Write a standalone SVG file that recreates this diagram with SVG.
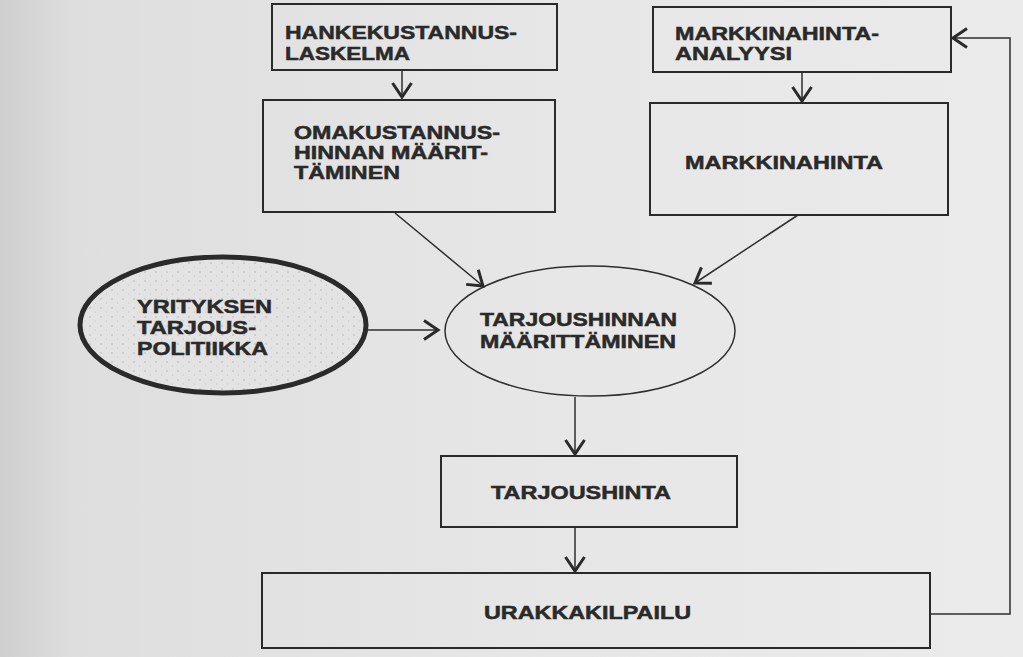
<svg xmlns="http://www.w3.org/2000/svg" width="1023" height="657" viewBox="0 0 1023 657">
<defs>
<linearGradient id="bg" x1="0" y1="0" x2="1" y2="0">
<stop offset="0" stop-color="#cfcfcf"/>
<stop offset="0.07" stop-color="#dedede"/>
<stop offset="0.5" stop-color="#e6e6e6"/>
<stop offset="1" stop-color="#ebebeb"/>
</linearGradient>
<pattern id="stip" width="11" height="9" patternUnits="userSpaceOnUse">
<rect width="11" height="9" fill="#e3e3e3"/>
<circle cx="2" cy="2" r="0.7" fill="#a8a8a8"/>
<circle cx="7.5" cy="6" r="0.6" fill="#bdbdbd"/>
</pattern>
<marker id="arr" markerUnits="userSpaceOnUse" markerWidth="24" markerHeight="24" viewBox="-16 -12 18 24" refX="0" refY="0" orient="auto">
<path d="M -14 -9.5 L 0 0 L -14 9.5" fill="none" stroke="#2a2a2a" stroke-width="3" stroke-linejoin="miter"/>
</marker>
<style>
.box{fill:none;stroke:#2a2a2a;stroke-width:2}
.t{font-family:"Liberation Sans",Arial,sans-serif;font-weight:bold;font-size:18.5px;fill:#2a2a2a;stroke:#2a2a2a;stroke-width:0.5}
.c{fill:none;stroke:#2e2e2e;stroke-width:1.5;marker-end:url(#arr)}
</style>
</defs>
<rect width="1023" height="657" fill="url(#bg)"/>

<g id="connectors">
<line class="c" x1="402" y1="70" x2="402" y2="97"/>
<line class="c" x1="802" y1="72" x2="802" y2="101"/>
<line class="c" x1="395" y1="213" x2="483" y2="286"/>
<line class="c" x1="798" y1="215" x2="695" y2="283"/>
<line class="c" x1="368" y1="330" x2="438" y2="330"/>
<line class="c" x1="575" y1="397" x2="575" y2="454"/>
<line class="c" x1="575" y1="527" x2="575" y2="571"/>
<polyline class="c" points="930,614 1010,614 1010,38 953,38"/>
</g>

<g id="hankekustannuslaskelma">
<rect class="box" x="272" y="4" width="285" height="66"/>
<text class="t" x="285" y="39" textLength="232" lengthAdjust="spacingAndGlyphs">HANKEKUSTANNUS-</text>
<text class="t" x="285" y="60" textLength="125" lengthAdjust="spacingAndGlyphs">LASKELMA</text>
</g>

<g id="markkinahinta-analyysi">
<rect class="box" x="653" y="7" width="298" height="65"/>
<text class="t" x="675" y="40" textLength="204" lengthAdjust="spacingAndGlyphs">MARKKINAHINTA-</text>
<text class="t" x="675" y="60" textLength="117" lengthAdjust="spacingAndGlyphs">ANALYYSI</text>
</g>

<g id="omakustannushinta">
<rect class="box" x="263" y="100" width="292" height="112"/>
<text class="t" x="294" y="139" textLength="206" lengthAdjust="spacingAndGlyphs">OMAKUSTANNUS-</text>
<text class="t" x="294" y="159" textLength="194" lengthAdjust="spacingAndGlyphs">HINNAN MÄÄRIT-</text>
<text class="t" x="294" y="179" textLength="106" lengthAdjust="spacingAndGlyphs">TÄMINEN</text>
</g>

<g id="markkinahinta">
<rect class="box" x="650" y="103" width="298" height="112"/>
<text class="t" x="685" y="169" textLength="198" lengthAdjust="spacingAndGlyphs">MARKKINAHINTA</text>
</g>

<g id="tarjouspolitiikka">
<ellipse cx="223" cy="325" rx="143" ry="68" fill="url(#stip)" stroke="#2a2a2a" stroke-width="5"/>
<text class="t" x="137" y="313" textLength="135" lengthAdjust="spacingAndGlyphs">YRITYKSEN</text>
<text class="t" x="137" y="334" textLength="119" lengthAdjust="spacingAndGlyphs">TARJOUS-</text>
<text class="t" x="137" y="355" textLength="131" lengthAdjust="spacingAndGlyphs">POLITIIKKA</text>
</g>

<g id="tarjoushinnan-maarittaminen">
<ellipse cx="590" cy="331" rx="145" ry="65" fill="none" stroke="#2e2e2e" stroke-width="1.5"/>
<text class="t" x="480" y="326" textLength="197" lengthAdjust="spacingAndGlyphs">TARJOUSHINNAN</text>
<text class="t" x="480" y="348" textLength="196" lengthAdjust="spacingAndGlyphs">MÄÄRITTÄMINEN</text>
</g>

<g id="tarjoushinta">
<rect class="box" x="441" y="456" width="296" height="71"/>
<text class="t" x="491" y="499" textLength="180" lengthAdjust="spacingAndGlyphs">TARJOUSHINTA</text>
</g>

<g id="urakkakilpailu">
<rect class="box" x="262" y="573" width="668" height="75"/>
<text class="t" x="484" y="619" textLength="207" lengthAdjust="spacingAndGlyphs">URAKKAKILPAILU</text>
</g>
</svg>
